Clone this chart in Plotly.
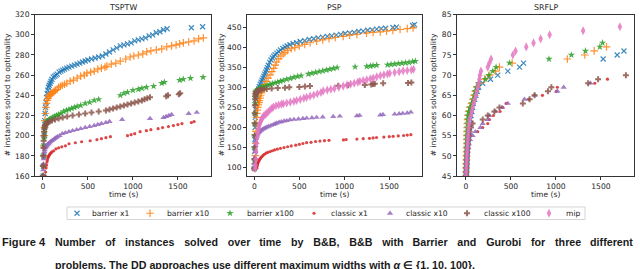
import plotly.graph_objects as go

# ------------------------------------------------------------------
# Data: time (s) vs # instances solved
# ------------------------------------------------------------------
SERIES = ["barrier x1", "barrier x10", "barrier x100",
          "classic x1", "classic x10", "classic x100", "mip"]
PROBLEMS = ["TSPTW", "PSP", "SRFLP"]

# ---- TSPTW ----
tsptw_barrier_x1_t = [3, 6, 9, 12, 15, 18, 21, 25, 30, 35, 40, 47, 55, 62, 70, 80, 90, 100, 115, 130,
                      145, 160, 180, 200, 220, 240, 265, 290, 320, 350, 380, 410, 440, 470, 500, 540, 580, 620, 660, 700,
                      740, 780, 820, 860, 900, 940, 980, 1020, 1060, 1100, 1140, 1180, 1220, 1260, 1300, 1340, 1380, 1650, 1775]
tsptw_barrier_x1_y = [160, 170, 180, 190, 200, 208, 215, 222, 228, 233, 238, 242, 245, 248, 250, 252, 254, 256, 258, 259,
                      260, 261, 263, 264, 265, 266, 267, 268, 269, 270, 271, 272, 273, 274, 275, 276, 277, 278, 279, 281,
                      283, 285, 287, 289, 290, 291, 292, 294, 295, 296, 297, 299, 300, 302, 303, 305, 306, 307, 308]

tsptw_barrier_x10_t = [3, 6, 9, 12, 15, 18, 22, 27, 33, 40, 48, 56, 65, 75, 85, 94, 110, 125, 140, 158,
                       174, 195, 215, 240, 265, 303, 340, 380, 420, 460, 488, 530, 570, 610, 650, 690, 710, 760, 810, 860,
                       920, 969, 1010, 1060, 1110, 1154, 1200, 1260, 1320, 1376, 1430, 1480, 1520, 1561, 1620, 1680, 1730, 1783]
tsptw_barrier_x10_y = [160, 170, 180, 190, 200, 208, 215, 222, 228, 232, 235, 237, 239, 240, 241, 242, 243, 244, 245, 246,
                       248, 249, 250, 251, 252, 254, 255, 257, 259, 260, 262, 263, 264, 266, 267, 268, 269, 271, 272, 274,
                       276, 278, 279, 280, 281, 283, 284, 285, 286, 288, 289, 290, 291, 292, 293, 294, 296, 297]

tsptw_barrier_x100_t = [2, 5, 8, 11, 14, 18, 22, 27, 33, 40, 50, 60, 75, 90, 110, 130, 150, 175, 200, 230,
                        260, 290, 320, 350, 380, 420, 470, 520, 570, 620, 860, 900, 940, 1000, 1060, 1100, 1150, 1230, 1320, 1350,
                        1520, 1560, 1640, 1780]
tsptw_barrier_x100_y = [160, 170, 180, 190, 197, 203, 207, 210, 212, 213, 214, 215, 216, 217, 218, 219, 220, 221, 222, 224,
                        225, 226, 227, 228, 229, 230, 232, 233, 235, 236, 240, 242, 243, 245, 246, 247, 248, 249, 252, 253,
                        255, 256, 257, 258]

tsptw_classic_x1_t = [25, 30, 35, 40, 45, 50, 55, 60, 66, 72, 80, 90, 100, 120, 145, 175, 210, 250, 290, 360,
                      430, 525, 600, 650, 700, 750, 940, 980, 1020, 1080, 1150, 1200, 1280, 1330, 1395, 1450, 1500, 1545, 1650, 1680]
tsptw_classic_x1_y = [160, 164, 168, 171, 174, 176, 178, 179, 180, 181, 182, 183, 184, 185, 187, 188, 189, 190, 192, 193,
                      194, 195, 196, 197, 198, 199, 200, 201, 202, 204, 205, 206, 207, 208, 209, 210, 211, 212, 213, 214]

tsptw_classic_x10_t = [0, 3, 6, 9, 12, 16, 20, 25, 32, 40, 50, 60, 72, 85, 100, 115, 130, 145, 160, 185,
                       215, 250, 290, 330, 375, 420, 470, 520, 570, 610, 650, 700, 740, 880, 1190, 1340, 1370, 1400, 1430, 1620,
                       1710]
tsptw_classic_x10_y = [160, 166, 172, 177, 181, 184, 186, 188, 189, 190, 191, 192, 193, 194, 195, 196, 197, 198, 199, 200,
                       202, 203, 204, 205, 206, 207, 208, 209, 210, 211, 212, 213, 214, 216, 217, 218, 219, 220, 221, 222,
                       223]

tsptw_classic_x100_t = [0, 2, 4, 6, 8, 10, 13, 16, 20, 25, 30, 40, 55, 75, 100, 135, 175, 220, 270, 330,
                        400, 470, 540, 620, 700, 740, 780, 820, 860, 900, 940, 980, 1020, 1060, 1100, 1130, 1160, 1190, 1370, 1390,
                        1510, 1525]
tsptw_classic_x100_y = [160, 170, 180, 188, 195, 200, 204, 207, 209, 210, 211, 212, 213, 214, 215, 216, 217, 218, 219, 220,
                        221, 222, 223, 224, 225, 226, 227, 228, 229, 230, 231, 232, 233, 234, 235, 236, 237, 238, 239, 240,
                        241, 242]

# ---- PSP ----
psp_barrier_x1_t = [0, 2, 4, 6, 8, 10, 13, 16, 20, 25, 30, 38, 46, 55, 65, 75, 85, 95, 105, 115,
                    125, 135, 145, 155, 170, 185, 200, 215, 230, 250, 270, 290, 315, 340, 365, 395, 430, 470, 510, 560,
                    610, 660, 710, 760, 810, 860, 910, 960, 1010, 1060, 1110, 1160, 1210, 1260, 1310, 1360, 1410, 1460, 1540, 1580,
                    1760, 1780]
psp_barrier_x1_y = [98, 115, 140, 170, 200, 225, 245, 260, 270, 278, 283, 290, 296, 302, 308, 313, 318, 323, 328, 333,
                    338, 343, 349, 355, 362, 368, 373, 377, 381, 385, 389, 393, 397, 400, 403, 406, 409, 411, 414, 416,
                    419, 421, 423, 425, 427, 428, 430, 432, 434, 435, 437, 439, 440, 442, 443, 445, 446, 447, 449, 450,
                    454, 456]

psp_barrier_x10_t = [5, 8, 11, 14, 17, 20, 24, 28, 33, 38, 44, 50, 56, 63, 70, 78, 86, 94, 112, 132,
                     152, 174, 195, 215, 232, 248, 270, 295, 320, 340, 370, 410, 450, 500, 560, 620, 692, 760, 830, 900,
                     988, 1060, 1140, 1247, 1320, 1400, 1469, 1540, 1620, 1700, 1765]
psp_barrier_x10_y = [98, 110, 130, 160, 190, 210, 225, 235, 243, 250, 256, 262, 267, 273, 279, 286, 292, 299, 307, 315,
                     323, 331, 339, 347, 355, 363, 371, 378, 383, 387, 392, 396, 399, 403, 407, 411, 415, 418, 421, 424,
                     427, 430, 432, 435, 437, 438, 440, 442, 444, 446, 448]

psp_barrier_x100_t = [0, 1, 2, 3, 4, 5, 6, 8, 10, 13, 17, 22, 30, 40, 55, 75, 100, 125, 150, 175,
                      200, 230, 260, 290, 320, 360, 400, 440, 480, 520, 600, 640, 680, 720, 760, 800, 840, 880, 920, 1120,
                      1250, 1290, 1320, 1360, 1480, 1520, 1560, 1600, 1640, 1680, 1720, 1760, 1790]
psp_barrier_x100_y = [98, 120, 150, 180, 210, 235, 260, 275, 283, 287, 289, 291, 293, 295, 297, 299, 301, 303, 305, 307,
                      309, 311, 313, 315, 317, 320, 322, 325, 327, 329, 333, 335, 337, 339, 341, 343, 345, 347, 349, 351,
                      352, 353, 354, 355, 356, 357, 358, 359, 360, 361, 362, 364, 365]

psp_classic_x1_t = [20, 24, 28, 32, 36, 40, 45, 52, 60, 70, 82, 95, 110, 130, 150, 175, 200, 225, 255, 290,
                    330, 370, 410, 460, 500, 540, 581, 630, 680, 729, 780, 830, 990, 1020, 1140, 1210, 1280, 1320, 1358, 1440,
                    1500, 1543, 1600, 1660, 1700, 1740]
psp_classic_x1_y = [98, 100, 103, 106, 109, 112, 115, 118, 121, 124, 127, 130, 133, 136, 138, 140, 142, 144, 146, 148,
                    150, 152, 154, 156, 158, 160, 162, 163, 165, 166, 167, 168, 169, 170, 171, 172, 173, 174, 175, 176,
                    177, 178, 179, 180, 181, 182]

psp_classic_x10_t = [0, 3, 6, 9, 12, 15, 19, 24, 30, 37, 44, 52, 62, 75, 90, 105, 120, 140, 160, 185,
                     210, 230, 248, 275, 300, 330, 360, 396, 440, 490, 540, 581, 640, 692, 760, 877, 950, 1140, 1170, 1400,
                     1430, 1560, 1610, 1650, 1700, 1740]
psp_classic_x10_y = [98, 110, 125, 140, 155, 165, 172, 177, 181, 184, 187, 189, 191, 193, 195, 197, 199, 201, 203, 205,
                     207, 209, 211, 213, 214, 216, 217, 219, 220, 221, 222, 223, 224, 225, 226, 227, 228, 229, 230, 231,
                     232, 233, 234, 235, 236, 238]

psp_classic_x100_t = [0, 1, 2, 3, 4, 5, 6, 8, 10, 13, 17, 22, 28, 36, 46, 60, 80, 105, 137, 192,
                      260, 340, 388, 500, 562, 618, 932, 1043, 1228, 1300, 1320, 1339, 1432, 1709, 1746]
psp_classic_x100_y = [98, 120, 150, 180, 210, 235, 255, 270, 278, 283, 286, 288, 290, 291, 292, 293, 294, 295, 296, 297,
                      298, 299, 300, 301, 302, 303, 304, 305, 306, 307, 308, 309, 310, 311, 312]

psp_mip_t = [8, 12, 16, 20, 25, 30, 36, 42, 48, 55, 63, 72, 82, 92, 105, 120, 137, 155, 175, 195,
             211, 240, 270, 300, 322, 360, 400, 440, 470, 510, 550, 581, 620, 660, 700, 740, 766, 810, 850, 890,
             940, 988, 1030, 1070, 1110, 1150, 1173, 1210, 1250, 1290, 1321, 1360, 1400, 1440, 1480, 1506, 1560, 1610, 1654, 1700,
             1746, 1770]
psp_mip_y = [98, 105, 120, 140, 160, 175, 185, 193, 200, 206, 211, 216, 221, 225, 229, 232, 235, 239, 244, 248,
             251, 254, 256, 258, 259, 261, 263, 265, 267, 270, 273, 275, 278, 281, 284, 287, 291, 293, 295, 297,
             300, 303, 306, 308, 310, 313, 315, 317, 319, 321, 323, 326, 329, 331, 333, 335, 337, 339, 341, 342,
             343, 345]

# ---- SRFLP ----
srflp_barrier_x1_t = [2, 4, 6, 8, 10, 12, 14, 17, 20, 24, 30, 35, 40, 45, 50, 56, 65, 74, 82, 97,
                      112, 126, 141, 186, 272, 353, 465, 595, 640, 1525, 1681, 1756]
srflp_barrier_x1_y = [45, 46, 47, 48, 49, 50, 51, 52, 53, 54, 55, 56, 57, 58, 59, 60, 61, 62, 63, 64,
                      65, 66, 67, 68, 69, 70, 71, 72, 73, 74, 75, 76]

srflp_barrier_x10_t = [0, 1, 2, 3, 4, 5, 6, 7, 8, 9, 10, 12, 14, 16, 18, 22, 30, 45, 62, 78,
                       92, 106, 120, 150, 205, 265, 330, 372, 513, 1127, 1321, 1425, 1562]
srflp_barrier_x10_y = [45, 46, 47, 48, 49, 50, 51, 52, 53, 54, 55, 56, 57, 58, 59, 60, 61, 62, 63, 64,
                       65, 66, 67, 68, 69, 70, 71, 72, 73, 74, 75, 76, 77]

srflp_barrier_x100_t = [0, 1, 2, 3, 4, 5, 6, 7, 8, 9, 10, 12, 14, 16, 18, 22, 30, 45, 65, 80,
                        92, 104, 115, 140, 216, 253, 298, 335, 484, 923, 1172, 1328, 1488, 1518]
srflp_barrier_x100_y = [45, 46, 47, 48, 49, 50, 51, 52, 53, 54, 55, 56, 57, 58, 59, 60, 61, 62, 63, 64,
                        65, 66, 67, 68, 69, 70, 71, 72, 73, 74, 75, 76, 77, 78]

srflp_classic_x1_t = [5, 8, 10, 12, 14, 17, 20, 24, 30, 40, 55, 130, 186, 242, 260, 305, 379, 410, 446, 700,
                      850, 1004, 1016, 1432, 1573]
srflp_classic_x1_y = [45, 46, 47, 48, 49, 50, 51, 52, 53, 54, 55, 56, 57, 58, 59, 60, 61, 62, 63, 64,
                      65, 66, 67, 68, 69]

srflp_classic_x10_t = [0, 3, 6, 9, 12, 15, 20, 26, 32, 45, 74, 104, 160, 186, 242, 260, 330, 400, 465, 650,
                       763, 1016, 1086, 1384]
srflp_classic_x10_y = [45, 46, 47, 48, 49, 50, 51, 52, 53, 54, 55, 56, 57, 58, 59, 60, 61, 62, 63, 64,
                       65, 66, 67, 68]

srflp_classic_x100_t = [0, 2, 4, 6, 8, 10, 12, 15, 18, 22, 26, 40, 56, 74, 186, 242, 316, 372, 632, 707,
                        763, 911, 949, 1358, 1469, 1778]
srflp_classic_x100_y = [45, 46, 47, 48, 49, 50, 51, 52, 53, 54, 55, 56, 57, 58, 59, 60, 61, 62, 63, 64,
                        65, 66, 67, 68, 69, 70]

srflp_mip_t = [0, 2, 4, 6, 8, 10, 12, 14, 17, 20, 23, 26, 30, 34, 37, 56, 65, 74, 86, 97,
               112, 119, 130, 141, 149, 155, 167, 242, 260, 279, 521, 551, 670, 751, 830, 930, 1302, 1711]
srflp_mip_y = [45, 46, 47, 48, 49, 50, 51, 52, 53, 54, 55, 56, 57, 58, 59, 60, 61, 62, 63, 64,
               65, 66, 67, 68, 69, 70, 71, 72, 73, 74, 75, 76, 77, 78, 79, 80, 81, 82]

DATA = {
    "TSPTW": {
        "barrier x1": (tsptw_barrier_x1_t, tsptw_barrier_x1_y),
        "barrier x10": (tsptw_barrier_x10_t, tsptw_barrier_x10_y),
        "barrier x100": (tsptw_barrier_x100_t, tsptw_barrier_x100_y),
        "classic x1": (tsptw_classic_x1_t, tsptw_classic_x1_y),
        "classic x10": (tsptw_classic_x10_t, tsptw_classic_x10_y),
        "classic x100": (tsptw_classic_x100_t, tsptw_classic_x100_y),
    },
    "PSP": {
        "barrier x1": (psp_barrier_x1_t, psp_barrier_x1_y),
        "barrier x10": (psp_barrier_x10_t, psp_barrier_x10_y),
        "barrier x100": (psp_barrier_x100_t, psp_barrier_x100_y),
        "classic x1": (psp_classic_x1_t, psp_classic_x1_y),
        "classic x10": (psp_classic_x10_t, psp_classic_x10_y),
        "classic x100": (psp_classic_x100_t, psp_classic_x100_y),
        "mip": (psp_mip_t, psp_mip_y),
    },
    "SRFLP": {
        "barrier x1": (srflp_barrier_x1_t, srflp_barrier_x1_y),
        "barrier x10": (srflp_barrier_x10_t, srflp_barrier_x10_y),
        "barrier x100": (srflp_barrier_x100_t, srflp_barrier_x100_y),
        "classic x1": (srflp_classic_x1_t, srflp_classic_x1_y),
        "classic x10": (srflp_classic_x10_t, srflp_classic_x10_y),
        "classic x100": (srflp_classic_x100_t, srflp_classic_x100_y),
        "mip": (srflp_mip_t, srflp_mip_y),
    },
}

X_TICKS = [0, 500, 1000, 1500]
Y_TICKS = {
    "TSPTW": [160, 180, 200, 220, 240, 260, 280, 300, 320],
    "PSP": [100, 150, 200, 250, 300, 350, 400, 450],
    "SRFLP": [45, 50, 55, 60, 65, 70, 75, 80, 85],
}
X_TITLE = "time (s)"
Y_TITLE = "# instances solved to optimality"
CAPTION_LABEL = "Figure 4"
CAPTION_LINE1 = "Number of instances solved over time by B&B, B&B with Barrier and Gurobi for three different"
CAPTION_LINE2 = "problems. The DD approaches use different maximum widths with <i>α</i> ∈ {1, 10, 100}."

# ------------------------------------------------------------------
# Styling / layout
# ------------------------------------------------------------------
W, H = 640, 269
STYLE = {
    "barrier x1": dict(color="#1f77b4", symbol="x-thin", size=5, lw=1.2),
    "barrier x10": dict(color="#ff7f0e", symbol="cross-thin", size=5.5, lw=1.2),
    "barrier x100": dict(color="#2ca02c", symbol="star", size=5.5, lw=0),
    "classic x1": dict(color="#d62728", symbol="circle", size=3.2, lw=0),
    "classic x10": dict(color="#9467bd", symbol="triangle-up", size=5.5, lw=0),
    "classic x100": dict(color="#8c564b", symbol="cross", size=5, lw=0),
    "mip": dict(color="#e377c2", symbol="diamond-tall", size=6.5, lw=0),
}
PANEL_X = {"TSPTW": (35, 211), "PSP": (247, 422), "SRFLP": (457, 634)}
PANEL_Y = (11, 178)
X_RANGE = {"TSPTW": [-88, 1868], "PSP": [-82, 1864], "SRFLP": [-100, 1868]}
Y_RANGE = {"TSPTW": [160, 320], "PSP": [79, 481], "SRFLP": [45, 85]}
YTITLE_X = {"TSPTW": 7, "PSP": 221, "SRFLP": 433}
LEG_KEY_X = [77, 150, 230, 314, 390, 467, 549]
LEG_TEXT_X = [90, 165, 245, 329, 404, 482, 564]
LEG_Y = 216.5
LEG_BOX = (67, 210, 585, 223)

FONT = "DejaVu Sans"
TXT = "#262626"
FS = 7.6


def px(x):
    return x / W


def py(y):
    return 1 - y / H


def marker(name):
    s = STYLE[name]
    m = dict(symbol=s["symbol"], size=s["size"], color=s["color"], opacity=0.85)
    if s["lw"]:
        m["line"] = dict(color=s["color"], width=s["lw"])
    else:
        m["line"] = dict(width=0)
    return m


def justified(text):
    # caption line 1 is justified in the reference: widen the word gaps
    words = text.split(" ")
    out = words[0]
    for j, w in enumerate(words[1:]):
        gap = " \u00a0\u00a0" + ("\u200a" if j % 5 != 4 else "")
        out += gap + w
    return out


fig = go.Figure()
annotations = []
layout = {}

for i, prob in enumerate(PROBLEMS, start=1):
    xa = "x" if i == 1 else f"x{i}"
    ya = "y" if i == 1 else f"y{i}"
    for name in SERIES:
        if name not in DATA[prob]:
            continue
        t, y = DATA[prob][name]
        fig.add_trace(go.Scatter(x=t, y=y, mode="markers", name=name, showlegend=False,
                                 marker=marker(name), xaxis=xa, yaxis=ya, cliponaxis=True))
    x0, x1 = PANEL_X[prob]
    ax_common = dict(showline=True, linecolor="#333333", linewidth=1, mirror=True,
                     ticks="outside", ticklen=3, tickwidth=1, tickcolor="#333333",
                     tickfont=dict(family=FONT, size=FS, color=TXT),
                     showgrid=False, zeroline=False, fixedrange=True)
    layout[f"xaxis{i}"] = dict(domain=[px(x0), px(x1)], range=X_RANGE[prob], tickvals=X_TICKS,
                               anchor=ya, **ax_common)
    layout[f"yaxis{i}"] = dict(domain=[py(PANEL_Y[1]), py(PANEL_Y[0])], range=Y_RANGE[prob],
                               tickvals=Y_TICKS[prob], anchor=xa, **ax_common)
    cx = (x0 + x1) / 2
    annotations.append(dict(text=prob, x=px(cx), y=py(4), xref="paper", yref="paper",
                            xanchor="center", yanchor="middle", showarrow=False,
                            font=dict(family=FONT, size=FS + 0.3, color=TXT)))
    annotations.append(dict(text=X_TITLE, x=px(cx), y=py(197), xref="paper", yref="paper",
                            xanchor="center", yanchor="middle", showarrow=False,
                            font=dict(family=FONT, size=FS, color=TXT)))
    annotations.append(dict(text=Y_TITLE, x=px(YTITLE_X[prob]), y=py((PANEL_Y[0] + PANEL_Y[1]) / 2),
                            xref="paper", yref="paper", xanchor="center", yanchor="middle",
                            textangle=-90, showarrow=False,
                            font=dict(family=FONT, size=FS, color=TXT)))

# legend (drawn on an overlay pixel axis)
layout["xaxis4"] = dict(domain=[0, 1], range=[0, W], visible=False, fixedrange=True, anchor="y4")
layout["yaxis4"] = dict(domain=[0, 1], range=[H, 0], visible=False, fixedrange=True, anchor="x4")
for k, name in enumerate(SERIES):
    fig.add_trace(go.Scatter(x=[LEG_KEY_X[k]], y=[LEG_Y], mode="markers", showlegend=False,
                             marker=marker(name), xaxis="x4", yaxis="y4", hoverinfo="skip"))
    annotations.append(dict(text=name, x=px(LEG_TEXT_X[k]), y=py(LEG_Y), xref="paper", yref="paper",
                            xanchor="left", yanchor="middle", showarrow=False,
                            font=dict(family=FONT, size=FS, color=TXT)))

shapes = [dict(type="rect", xref="paper", yref="paper", layer="below",
               x0=px(LEG_BOX[0]), x1=px(LEG_BOX[2]), y0=py(LEG_BOX[3]), y1=py(LEG_BOX[1]),
               line=dict(color="#d4d4d4", width=1), fillcolor="white")]

# caption
CAP_FONT = "Liberation Sans"
CAP_COLOR = "#1a1a1a"
CAP_FS = 10.7
annotations.append(dict(text=f"<b>{CAPTION_LABEL}</b>", x=px(0), y=py(246), xref="paper", yref="paper",
                        xanchor="left", yanchor="middle", showarrow=False,
                        font=dict(family=CAP_FONT, size=CAP_FS + 0.4, color=CAP_COLOR)))
annotations.append(dict(text="<b>" + justified(CAPTION_LINE1) + "</b>", x=px(53), y=py(246),
                        xref="paper", yref="paper", xanchor="left", yanchor="middle", showarrow=False,
                        font=dict(family=CAP_FONT, size=CAP_FS, color=CAP_COLOR)))
annotations.append(dict(text=f"<b>{CAPTION_LINE2}</b>", x=px(53), y=py(270.5), xref="paper", yref="paper",
                        xanchor="left", yanchor="middle", showarrow=False,
                        font=dict(family=CAP_FONT, size=CAP_FS, color=CAP_COLOR)))

fig.update_layout(width=W, height=H, margin=dict(l=0, r=0, t=0, b=0),
                  paper_bgcolor="white", plot_bgcolor="rgba(0,0,0,0)",
                  showlegend=False, annotations=annotations, shapes=shapes, **layout)

fig.write_html("out.html", config={"displayModeBar": False, "staticPlot": True},
               post_script="document.body.style.margin='0px';document.body.style.overflow='hidden';")
